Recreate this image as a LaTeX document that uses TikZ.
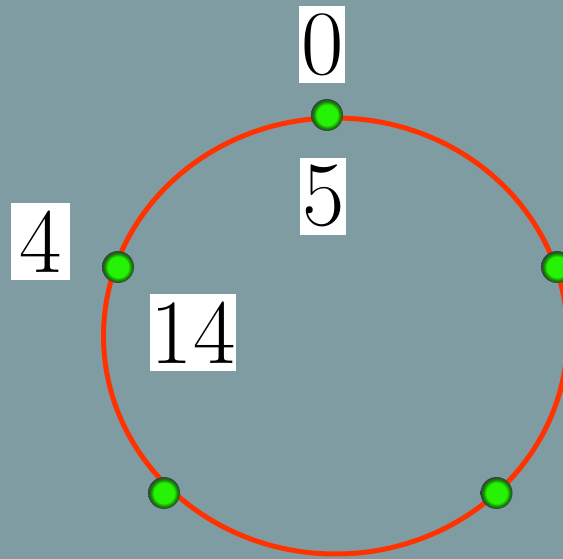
\documentclass[tikz,border=0pt]{standalone}
\usepackage{tikz}
\usetikzlibrary{positioning}
\definecolor{cBack}{HTML}{809CA3}
\definecolor{cRing}{HTML}{FF3200}
\definecolor{cDot}{HTML}{26F205}
\pgfdeclareradialshading{dotshade}{\pgfpoint{0bp}{0bp}}{%
  color(0bp)=(cDot); color(16bp)=(cDot); color(21bp)=(cDot!55!black);
  color(25bp)=(cBack!40!black); color(50bp)=(cBack!40!black)}

\begin{document}
\begin{tikzpicture}[x=1pt,y=-1pt,
      numbox/.style={fill=white,font=\fontsize{92}{92}\selectfont,
                     inner xsep=2pt,inner ysep=0pt,minimum height=77pt},
      greendot/.style={circle,minimum size=32pt,inner sep=0pt,shading=dotshade}]
    \fill[cBack] (0,0) rectangle (563,559);
    \useasboundingbox (0,0) rectangle (563,559);
    \clip (0,0) rectangle (563,559);
    % ring
    \draw[cRing,line width=5pt] (335.5,336) ellipse [x radius=232,y radius=218];
    % points on the ring
    \node[greendot] (p0) at (327,115)   {};
    \node[greendot] (p1) at (118,267)   {};
    \node[greendot] (p2) at (557,267)   {};
    \node[greendot] (p3) at (164,493)   {};
    \node[greendot] (p4) at (496.5,493) {};
    % labels
    \node[numbox] (l0) at (322.2,44.5)  {0};
    \node[numbox] (l5) at (323.3,196.3) {5};
    \node[numbox,minimum width=59pt] (l4) at (40.5,241.3) {4};
    \node[numbox,inner xsep=0.5pt] (l14) at (193,332.8) {14};
\end{tikzpicture}
\end{document}
